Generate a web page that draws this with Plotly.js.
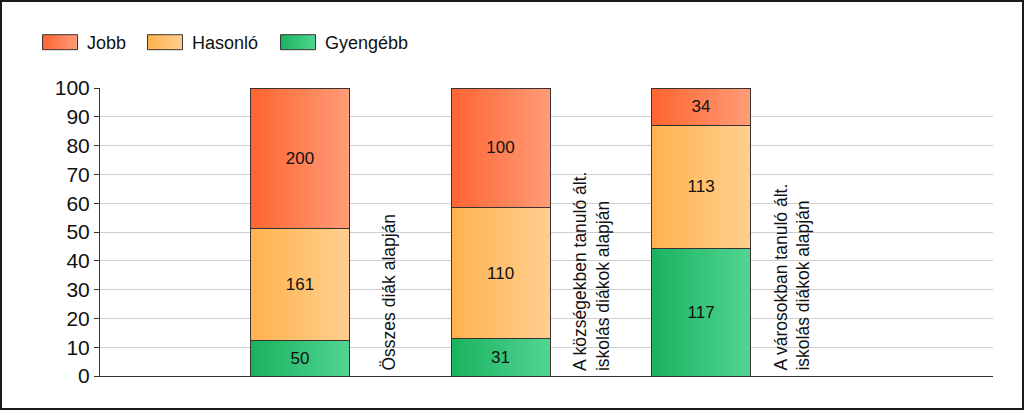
<!DOCTYPE html>
<html>
<head>
<meta charset="utf-8">
<script src="https://cdn.plot.ly/plotly-3.0.1.min.js"></script>
<style>
  html, body { margin: 0; padding: 0; background: #fff; }
  #frame { width: 1024px; height: 410px; box-sizing: border-box; border: 2px solid #1a1a1a; }
  #chart { width: 1020px; height: 406px; }
</style>
</head>
<body>
<div id="frame"><div id="chart"></div></div>
<script>
// ---- data ----
const categories = [
  "Összes diák alapján",
  "A községekben tanuló ált.<br>iskolás diákok alapján",
  "A városokban tanuló ált.<br>iskolás diákok alapján"
];
const gyengebb = [50, 31, 117];
const hasonlo  = [161, 110, 113];
const jobb     = [200, 100, 34];
const seriesNames = ["Gyengébb", "Hasonló", "Jobb"];
const yTicks = [0, 10, 20, 30, 40, 50, 60, 70, 80, 90, 100];

// ---- styles ----
const FONT = "Liberation Sans, Arial, sans-serif";
const gradients = {
  "Gyengébb": ["#19b25f", "#52d593"],
  "Hasonló":  ["#ffb24d", "#ffcf90"],
  "Jobb":     ["#ff6430", "#ff9c78"]
};
const legendRef = { "Jobb": "legend", "Hasonló": "legend2", "Gyengébb": "legend3" };
const seriesValues = [gyengebb, hasonlo, jobb];

const traces = seriesNames.map((name, i) => ({
  type: "bar",
  name: name,
  legend: legendRef[name],
  x: categories,
  y: seriesValues[i],
  text: seriesValues[i].map(String),
  texttemplate: "%{text}",
  textposition: "inside",
  insidetextanchor: "middle",
  constraintext: "none",
  textfont: { family: FONT, size: 17, color: "#111" },
  marker: { color: gradients[name][0], line: { color: "#3a3230", width: 1 } },
  width: 0.494,
  hoverinfo: "skip"
}));

const annotations = categories.map(c => ({
  x: c, y: 0, xref: "x", yref: "y",
  text: c,
  showarrow: false,
  textangle: -90,
  align: "left",
  xanchor: "center",
  yanchor: "bottom",
  xshift: c.includes("<br>") ? 91 : 88,
  yshift: 3,
  font: { family: FONT, size: 17.5, color: "#111" }
}));

function legendBox(x) {
  return {
    orientation: "h",
    x: x, xanchor: "left", y: 1.158, yanchor: "middle",
    font: { family: FONT, size: 18, color: "#111" },
    itemwidth: 40,
    itemclick: false, itemdoubleclick: false,
    bgcolor: "rgba(0,0,0,0)"
  };
}

const layout = {
  width: 1020, height: 406,
  margin: { l: 98, r: 29, t: 86, b: 32, autoexpand: false },
  paper_bgcolor: "#fff", plot_bgcolor: "#fff",
  barmode: "stack",
  barnorm: "percent",
  showlegend: true,
  legend: legendBox(-0.0705),
  legend2: legendBox(0.047),
  legend3: legendBox(0.196),
  xaxis: {
    type: "category",
    range: [-0.9975, 3.456],
    showticklabels: false,
    ticks: "",
    showgrid: false,
    showline: true, linecolor: "#333", linewidth: 1,
    zeroline: false, fixedrange: true
  },
  yaxis: {
    range: [0, 100],
    tickvals: yTicks,
    ticktext: yTicks.map(String),
    ticks: "outside", ticklen: 5, tickcolor: "#333",
    tickfont: { family: FONT, size: 21, color: "#111" },
    showgrid: true, gridcolor: "#cfcfcf", gridwidth: 1,
    showline: true, linecolor: "#333", linewidth: 1,
    zeroline: false, fixedrange: true
  },
  annotations: annotations,
  font: { family: FONT }
};

const LEG_D = "M15.5,7.5H-19.5V-7.5H15.5Z";
function hexToRgb(h) {
  const n = parseInt(h.slice(1), 16);
  return "rgb(" + ((n >> 16) & 255) + ", " + ((n >> 8) & 255) + ", " + (n & 255) + ")";
}
const startRgb = seriesNames.map(n => hexToRgb(gradients[n][0]));
function setIf(p, attr, val) { if (p.getAttribute(attr) !== val) p.setAttribute(attr, val); }
function styleIf(p, prop, val) { if (p.style.getPropertyValue(prop) !== val) p.style.setProperty(prop, val); }
function gradUrl(i) { return "url(\"#grad" + i + "\")"; }

function findIndex(p) {
  // 1) by bound trace data
  let node = p;
  while (node && node !== document) {
    const d = node.__data__;
    if (d) {
      const cd = Array.isArray(d) ? d[0] : d;
      const tr = cd && (cd.trace || (Array.isArray(cd) && cd[0] && cd[0].trace));
      if (tr && tr.name && seriesNames.indexOf(tr.name) >= 0) return seriesNames.indexOf(tr.name);
    }
    node = node.parentNode;
  }
  // 2) by current solid colour
  const f = p.style.getPropertyValue("fill");
  return startRgb.indexOf(f);
}

function applyGradients(gd) {
  const NS = "http://www.w3.org/2000/svg";
  const svg = gd.querySelector("svg.main-svg");
  if (!svg) return;
  let defs = svg.querySelector("defs");
  if (!defs) { defs = document.createElementNS(NS, "defs"); svg.insertBefore(defs, svg.firstChild); }
  seriesNames.forEach((name, i) => {
    if (document.getElementById("grad" + i)) return;
    const lg = document.createElementNS(NS, "linearGradient");
    lg.setAttribute("id", "grad" + i);
    lg.setAttribute("x1", "0"); lg.setAttribute("y1", "0");
    lg.setAttribute("x2", "1"); lg.setAttribute("y2", "0");
    const s1 = document.createElementNS(NS, "stop");
    s1.setAttribute("offset", "0"); s1.setAttribute("stop-color", gradients[name][0]);
    const s2 = document.createElementNS(NS, "stop");
    s2.setAttribute("offset", "1"); s2.setAttribute("stop-color", gradients[name][1]);
    lg.appendChild(s1); lg.appendChild(s2);
    defs.appendChild(lg);
  });
  gd.querySelectorAll(".barlayer .trace").forEach((t, i) => {
    t.querySelectorAll(".point path").forEach(p => styleIf(p, "fill", gradUrl(i)));
  });
  gd.querySelectorAll(".legendpoints path").forEach(p => {
    setIf(p, "d", LEG_D);
    const idx = findIndex(p);
    if (idx >= 0) styleIf(p, "fill", gradUrl(idx));
    styleIf(p, "stroke", "rgb(58, 50, 48)");
    styleIf(p, "stroke-width", "1px");
  });
}

const chartDiv = document.getElementById("chart");
Plotly.newPlot(chartDiv, traces, layout, { displayModeBar: false, staticPlot: true }).then(gd => {
  applyGradients(gd);
  gd.on("plotly_afterplot", () => applyGradients(gd));
  const obs = new MutationObserver(() => applyGradients(gd));
  obs.observe(gd, { childList: true, subtree: true, attributes: true, attributeFilter: ["d", "style"] });
  requestAnimationFrame(() => applyGradients(gd));
  setTimeout(() => applyGradients(gd), 50);
});
</script>
</body>
</html>
